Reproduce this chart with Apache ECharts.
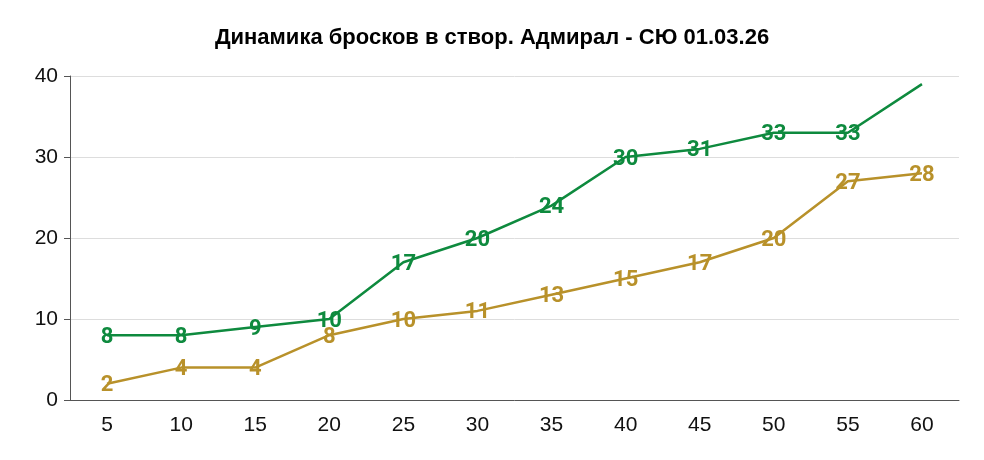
<!DOCTYPE html>
<html>
<head>
    <meta charset="utf-8">
    <title>Динамика бросков в створ</title>
    <script src="https://cdn.jsdelivr.net/npm/echarts@6.0.0/dist/echarts.min.js"></script>
    <style>
        html, body { margin: 0; padding: 0; background: #fff; }
        #chart { width: 984px; height: 460px; }
    </style>
</head>
<body>
    <div id="chart"></div>
    <script>
        // минуты матча
        const minutes = ['5', '10', '15', '20', '25', '30', '35', '40', '45', '50', '55', '60'];
        // накопленные броски в створ
        const admiral = [8, 8, 9, 10, 17, 20, 24, 30, 31, 33, 33, 39];
        const opponent = [2, 4, 4, 8, 10, 11, 13, 15, 17, 20, 27, 28];

        const chart = echarts.init(document.getElementById('chart'));

        const lineSeries = (name, data, color) => ({
            name: name,
            type: 'line',
            data: data,
            symbol: 'circle',
            symbolSize: 2,
            showSymbol: true,
            showAllSymbol: true,
            lineStyle: { color: color, width: 2.5 },
            itemStyle: { color: 'rgba(0,0,0,0)', borderWidth: 0 },
            label: {
                show: true,
                position: 'inside',
                offset: [0, 2],
                color: color,
                fontFamily: 'Roboto',
                fontWeight: 'bold',
                fontSize: 22
            },
            emphasis: { disabled: true }
        });

        chart.setOption({
            animation: false,
            title: {
                text: 'Динамика бросков в створ. Адмирал - СЮ 01.03.26',
                left: 'center',
                top: 22,
                textStyle: {
                    fontFamily: 'Liberation Sans',
                    fontWeight: 'bold',
                    fontSize: 22,
                    color: '#000'
                }
            },
            grid: { left: 70, right: 25, top: 76, bottom: 60 },
            xAxis: {
                type: 'category',
                data: minutes,
                axisLine: { lineStyle: { color: '#555' } },
                axisTick: { alignWithLabel: true, length: 7, lineStyle: { color: '#555' } },
                axisLabel: { color: '#111', fontFamily: 'Liberation Sans', fontSize: 21, margin: 15 }
            },
            yAxis: {
                type: 'value',
                min: 0,
                max: 40,
                interval: 10,
                axisLine: { show: true, lineStyle: { color: '#555' } },
                axisTick: { show: true, length: 6, lineStyle: { color: '#555' } },
                axisLabel: { color: '#111', fontFamily: 'Liberation Sans', fontSize: 21, margin: 12 },
                splitLine: { lineStyle: { color: '#ddd' } }
            },
            series: [
                lineSeries('Адмирал',
                    admiral.map((v, i) => i === admiral.length - 1 ? { value: v, label: { show: false } } : v),
                    '#0e8a3e'),
                lineSeries('СЮ', opponent, '#b8912a')
            ]
        });
    </script>
</body>
</html>
